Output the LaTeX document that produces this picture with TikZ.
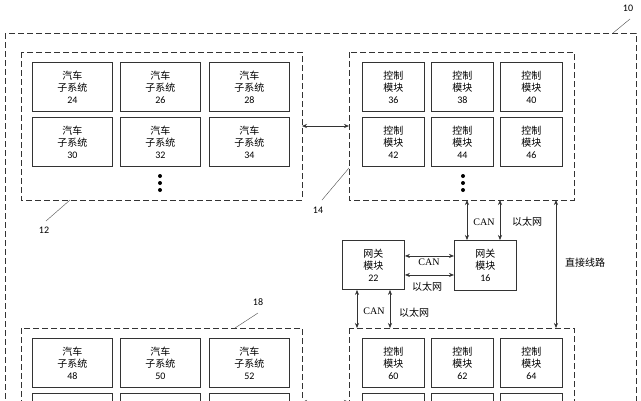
\documentclass[tikz,border=0pt]{standalone}
\usepackage{fontspec}
\setmainfont{Carlito}
\newfontfamily\cjk{Noto Sans CJK SC}
\newfontfamily\ser{Liberation Serif}
\usetikzlibrary{arrows.meta}
\begin{document}
\begin{tikzpicture}[x=1pt,y=-1pt,
  grp/.style={draw=black!80,dashed,dash pattern=on 6pt off 3pt,line width=0.9pt},
  cell/.style={draw=black!80,line width=0.9pt,minimum width=#1,minimum height=49pt,inner sep=0pt,align=center,font=\fontsize{10}{12}\selectfont,anchor=north west},
  cell/.default=80pt,
  lead/.style={draw=black!70,thin},
  arr/.style={draw=black!80,line width=0.6pt,{Stealth[length=5pt,width=4pt]}-{Stealth[length=5pt,width=4pt]}},
  lbl/.style={font=\fontsize{10}{11}\selectfont,inner sep=1pt},
  dot/.style={circle,fill=black,inner sep=0pt,minimum size=4pt}]
\useasboundingbox (0,0) rectangle (641,400);
\clip (0,0) rectangle (641,400);
\fill[white] (0,0) rectangle (641,400);
% outer
\draw[grp] (5,33) rectangle (636,460);
\node[lbl] (l10) at (628,8) {10};
\coordinate (c10a) at (630,19); \coordinate (c10b) at (613,33);
\draw[lead] (c10a) -- (c10b);
% group 12
\draw[grp] (21,52) rectangle (302,200);
\foreach \x/\n in {32/24,120/26,209/28}
  \node[cell] (a\n) at (\x,62) {{\cjk 汽车}\\{\cjk 子系统}\\\n};
\foreach \x/\n in {32/30,120/32,209/34}
  \node[cell] (a\n) at (\x,117) {{\cjk 汽车}\\{\cjk 子系统}\\\n};
\foreach \y [count=\i] in {176,183,190} \node[dot] (d1\i) at (160,\y) {};
\node[lbl] (l12) at (44,230) {12};
\coordinate (c12a) at (70,200); \coordinate (c12b) at (46,221);
\draw[lead] (c12a) -- (c12b);
% group 14
\draw[grp] (349,52) rectangle (574,200);
\foreach \x/\n in {362/36,431/38,500/40}
  \node[cell=62pt] (b\n) at (\x,62) {{\cjk 控制}\\{\cjk 模块}\\\n};
\foreach \x/\n in {362/42,431/44,500/46}
  \node[cell=62pt] (b\n) at (\x,117) {{\cjk 控制}\\{\cjk 模块}\\\n};
\foreach \y [count=\i] in {176,183,190} \node[dot] (d2\i) at (463,\y) {};
\node[lbl] (l14) at (318,210) {14};
\coordinate (c14a) at (349,168); \coordinate (c14b) at (322,200);
\draw[lead] (c14a) -- (c14b);
\coordinate (p1) at (302,126); \coordinate (p2) at (349,126);
\draw[arr] (p1) -- (p2);
% gateways
\node[cell=62pt,minimum height=49pt] (g22) at (342,240) {{\cjk 网关}\\{\cjk 模块}\\22};
\node[cell=62pt,minimum height=50pt] (g16) at (454,240) {{\cjk 网关}\\{\cjk 模块}\\16};
\coordinate (t1) at (467,200); \coordinate (t2) at (500,200);
\draw[arr] (t1) -- (t1 |- g16.north);
\draw[arr] (t2) -- (t2 |- g16.north);
\node[lbl,font=\ser\fontsize{10}{11}\selectfont] (lcan1) at (484,222) {CAN};
\node[lbl,font=\cjk\fontsize{10}{11}\selectfont] (leth1) at (527,222) {以太网};
\draw[arr] ([yshift=-10pt]g22.east) -- ([yshift=-10pt]g22.east -| g16.west);
\draw[arr] ([yshift=9pt]g22.east) -- ([yshift=9pt]g22.east -| g16.west);
\node[lbl,font=\ser\fontsize{10}{11}\selectfont] (lcan2) at (429,262) {CAN};
\node[lbl,font=\cjk\fontsize{10}{11}\selectfont] (leth2) at (427,287) {以太网};
% direct line
\coordinate (r1) at (556,200); \coordinate (r2) at (556,328);
\draw[arr] (r1) -- (r2);
\node[lbl,font=\cjk\fontsize{10}{11}\selectfont] (ldir) at (585,263) {直接线路};
% bottom right group
\draw[grp] (349,328) rectangle (574,470);
\coordinate (u1) at (357,328); \coordinate (u2) at (390,328);
\draw[arr] (u1 |- g22.south) -- (u1);
\draw[arr] (u2 |- g22.south) -- (u2);
\node[lbl,font=\ser\fontsize{10}{11}\selectfont] (lcan3) at (374,311) {CAN};
\node[lbl,font=\cjk\fontsize{10}{11}\selectfont] (leth3) at (414,313) {以太网};
\foreach \x/\n in {362/60,431/62,500/64}
  \node[cell=62pt] (e\n) at (\x,338) {{\cjk 控制}\\{\cjk 模块}\\\n};
\foreach \x/\n in {362/66,431/68,500/70}
  \node[cell=62pt] (e\n) at (\x,393) {};
% bottom left group 18
\draw[grp] (21,328) rectangle (302,470);
\foreach \x/\n in {32/48,120/50,209/52}
  \node[cell] (f\n) at (\x,338) {{\cjk 汽车}\\{\cjk 子系统}\\\n};
\foreach \x/\n in {32/54,120/56,209/58}
  \node[cell] (f\n) at (\x,393) {};
\node[lbl] (l18) at (258,302) {18};
\coordinate (c18a) at (258,313); \coordinate (c18b) at (235,328);
\draw[lead] (c18a) -- (c18b);
\coordinate (q1) at (302,402); \coordinate (q2) at (349,402);
\draw[arr] (q1) -- (q2);
\end{tikzpicture}
\end{document}
